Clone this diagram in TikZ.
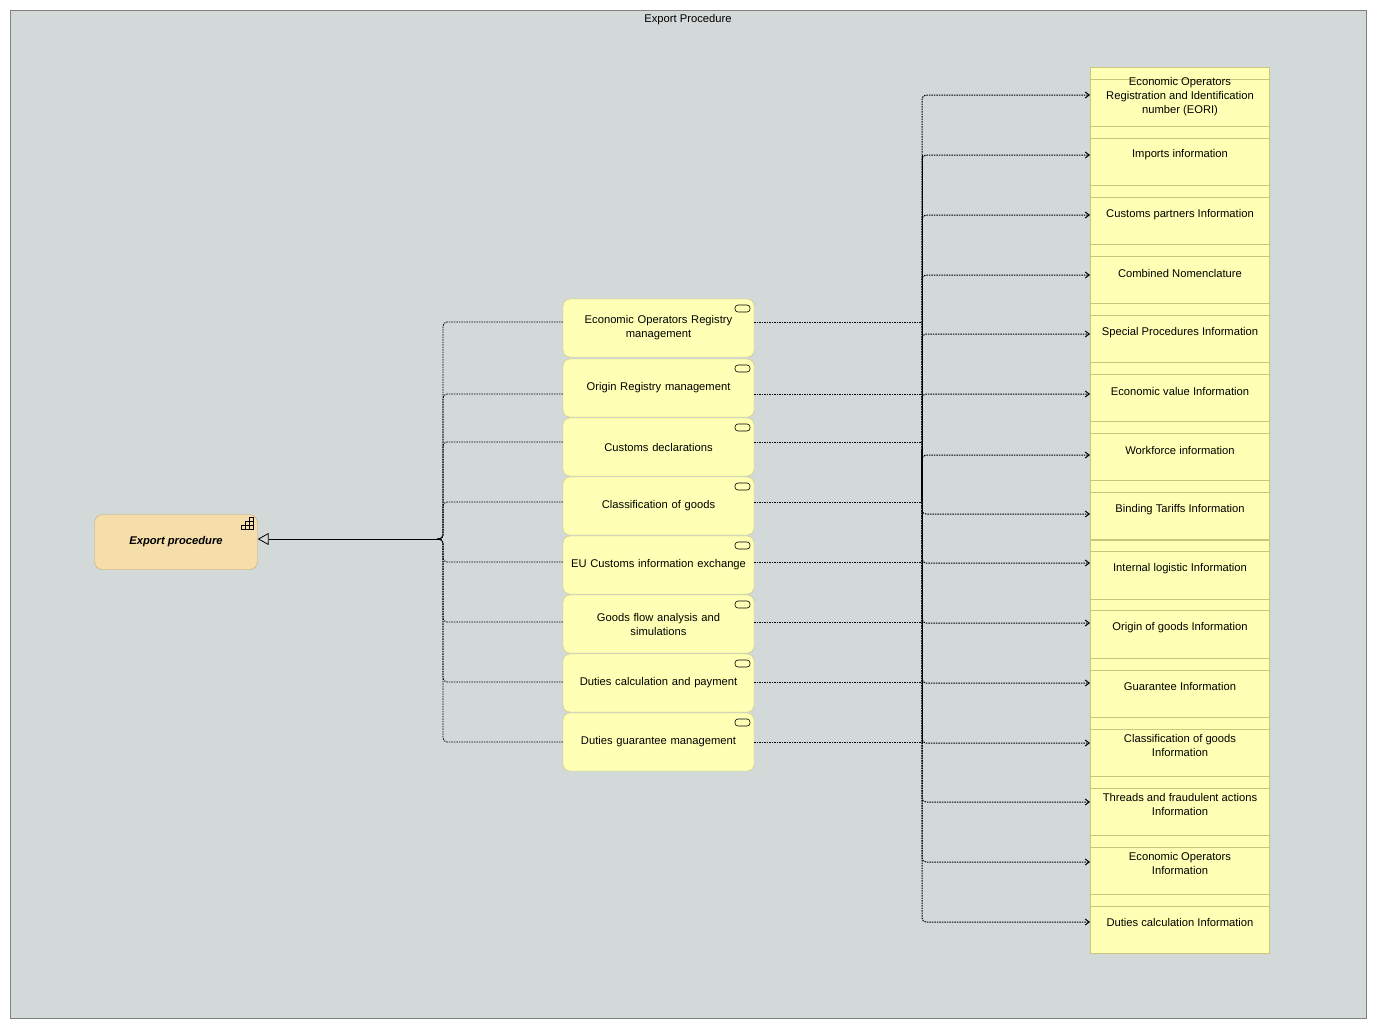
\documentclass[tikz,border=0pt]{standalone}
\usepackage{fontspec}
\setmainfont{Liberation Sans}
\usetikzlibrary{arrows.meta}
\definecolor{bg}{HTML}{D3D8D8}
\definecolor{yel}{HTML}{FFFFB5}
\definecolor{yelb}{HTML}{C8C878}
\definecolor{ora}{HTML}{F5DEAA}
\definecolor{orab}{HTML}{C0A878}
\begin{document}
\begin{tikzpicture}[x=1pt,y=-1pt,font=\fontsize{11.2}{14}\selectfont,
  svc/.style={draw=yelb,fill=yel,rounded corners=7pt,minimum width=191pt,minimum height=58pt,align=center,text width=189pt,inner sep=1pt},
  dat/.style={draw=yelb,fill=yel,minimum width=179pt,minimum height=59pt,inner sep=0pt},
  dl/.style={dash pattern=on 1.5pt off 1pt,line width=1pt,rounded corners=4pt},
  acc/.style={dl,-{Straight Barb[length=4pt,width=6pt]}}]
\useasboundingbox (0,0) rectangle (1377,1029);
\node[draw=gray,fill=bg,minimum width=1356pt,minimum height=1008pt,anchor=north west,inner sep=0pt] (frame) at (10,10) {};
\node (title) at (688,20) {Export Procedure};
% export procedure
\node[draw=orab,fill=ora,rounded corners=8pt,minimum width=163pt,minimum height=55pt,font=\fontsize{11.2}{14}\selectfont\bfseries\itshape] (exp) at (176,542) {Export procedure};
\begin{scope}[shift={(241,519)},line width=0.6pt]
\draw (0,10) rectangle (12,6); \draw (4,10)--(4,6); \draw (8,10)--(8,2); \draw (4,6) rectangle (12,2); \draw (8,2) rectangle (12,-2);
\end{scope}
% services
\foreach \n/\y/\t in {s1/328/{Economic Operators Registry\\management},s2/388/{Origin Registry management},s3/447/{Customs declarations},s4/506/{Classification of goods},s5/565/{EU Customs information exchange},s6/624/{Goods flow analysis and\\simulations},s7/683/{Duties calculation and payment},s8/742/{Duties guarantee management}}{
  \node[svc] (\n) at (658.5,\y) {\t};
  \draw[line width=0.6pt,rounded corners=3pt] (735,\y-23) rectangle (750,\y-16);
}
% data objects
\foreach \i/\t in {0/{Economic Operators\\Registration and Identification\\number (EORI)},1/{Imports information},2/{Customs partners Information},3/{Combined Nomenclature},4/{Special Procedures Information},5/{Economic value Information},6/{Workforce information},7/{Binding Tariffs Information},8/{Internal logistic Information},9/{Origin of goods Information},10/{Guarantee Information},11/{Classification of goods\\Information},12/{Threads and fraudulent actions\\Information},13/{Economic Operators\\Information},14/{Duties calculation Information}}{
  \pgfmathsetmacro\yt{67+59.07*\i}
  \node[dat,anchor=north west] (d\i) at (1090,\yt) {};
  \draw[draw=yelb] (1090,\yt+12) -- (1269,\yt+12);
  \node[align=center,inner sep=0pt] (dt\i) at (1180,\yt+\ifnum\i=0 30\else 29\fi) {\t};
}
% left bus
\coordinate (lb) at (440,539);
\foreach \n/\y in {s1/322,s2/394,s3/442,s4/502,s5/562,s6/622,s7/682,s8/742}{
  \draw[dl,line width=0.8pt] (\n.west |- 0,\y) -- (443,\y) -- (443,539) -- (lb);
}
\draw[line width=0.8pt,-{Triangle[open,length=11pt,width=12pt]}] (lb) -- (exp.east |- lb);
% right bus
\foreach \n/\y in {s1/322,s2/394,s3/442,s4/502,s5/562,s6/622,s7/682,s8/742}{
  \draw[dl] (\n.east |- 0,\y) -- (922,\y);
}
\draw[dl] (922,322) -- (922,742);
\foreach \i/\y in {0/95,1/155,2/215,3/275,4/334,5/394,6/455,7/514,8/563,9/623,10/683,11/743,12/802,13/862,14/922}{
  \draw[acc] (922,\ifnum\y<500 500\else 450\fi) -- (922,\y) -- (d\i.west |- 0,\y);
}
\draw[line width=1pt] (922,155) -- (922,742);
\end{tikzpicture}
\end{document}
